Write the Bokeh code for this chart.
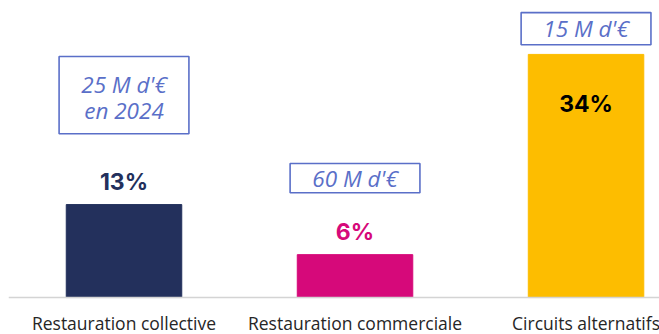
from bokeh.plotting import figure
from bokeh.models import Range1d, Span, ColumnDataSource
from bokeh.core.properties import value
from bokeh.embed import file_html
from bokeh.resources import INLINE

categories = ["Restauration collective", "Restauration commerciale", "Circuits alternatifs"]
shares = [13, 6, 34]
share_labels = ["13%", "6%", "34%"]
amount_lines_1 = ["25 M d'€", "60 M d'€", "15 M d'€"]
amount_lines_2 = ["en 2024", "", ""]
bar_colors = ["#23305c", "#d6097a", "#fdbd00"]
label_colors = ["#23305c", "#d6097a", "#000000"]

xs = list(range(len(categories)))

p = figure(width=659, height=334, output_backend="svg", toolbar_location=None,
           x_range=Range1d(-0.5, 2.318), y_range=Range1d(-5.17, 41.54),
           min_border_left=8, min_border_right=0, min_border_top=0, min_border_bottom=0)
p.outline_line_color = None
p.grid.visible = False
p.axis.visible = False
p.background_fill_color = "white"
p.border_fill_color = "white"

src = ColumnDataSource(dict(x=xs, top=shares, color=bar_colors))
p.vbar(x="x", top="top", bottom=0, width=0.5, color="color", source=src)

p.add_layout(Span(location=0, dimension="width", line_color="#d4d4d4", line_width=1.5))

# category labels
p.text(x=xs, y=[-3.5] * len(xs), text=categories, text_color="#262626",
       text_font=value("Open Sans"), text_font_size="17.5px",
       text_align="center", text_baseline="middle")

# percentage labels (above small bars, inside the tall one)
lab_y = [s + 3.2 if s < 20 else s - 6.9 for s in shares]
p.text(x=xs, y=lab_y, text=share_labels, text_color=label_colors,
       text_font=value("Inter"), text_font_style="bold", text_font_size="23px",
       text_align="center", text_baseline="middle")

# amount boxes
box_off = [15.3, 10.7, 3.6]
box_h = [10.8, 4.1, 4.5]
box_y = [s + o for s, o in zip(shares, box_off)]
p.rect(x=xs, y=box_y, width=0.562, height=box_h, fill_color="white",
       line_color="#5a6fc8", line_width=1.6)

t1_y = [by + (1.55 if l2 else 0) for by, l2 in zip(box_y, amount_lines_2)]
t2_y = [by - 2.1 for by in box_y]
p.text(x=xs, y=t1_y, text=amount_lines_1, text_color="#5a6fc8",
       text_font=value("Open Sans"), text_font_style="italic", text_font_size="22.5px",
       text_align="center", text_baseline="middle")
p.text(x=xs, y=t2_y, text=amount_lines_2, text_color="#5a6fc8",
       text_font=value("Open Sans"), text_font_style="italic", text_font_size="22.5px",
       text_align="center", text_baseline="middle")

open("out.html", "w").write(file_html(p, INLINE))
